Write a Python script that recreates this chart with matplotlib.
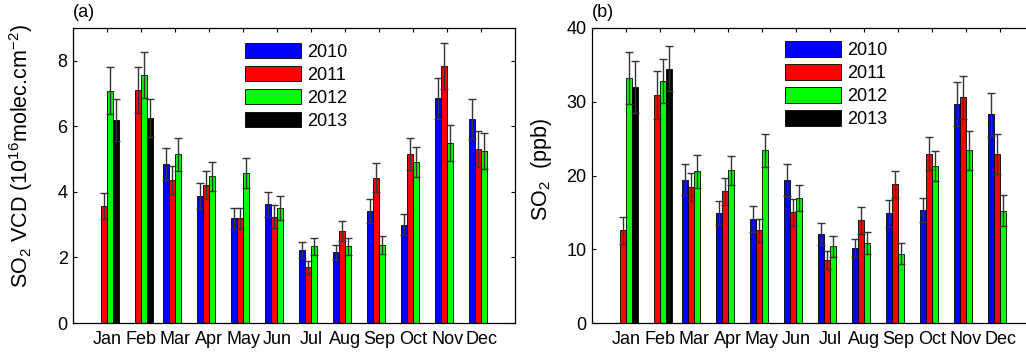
import matplotlib
matplotlib.use('Agg')
import matplotlib.pyplot as plt
import numpy as np

plt.rcParams['font.family'] = ['Liberation Sans', 'DejaVu Sans']
plt.rcParams['mathtext.default'] = 'regular'
plt.rcParams['font.size'] = 13

nan = np.nan

# Data
months = ['Jan', 'Feb', 'Mar', 'Apr', 'May', 'Jun',
          'Jul', 'Aug', 'Sep', 'Oct', 'Nov', 'Dec']
years = ['2010', '2011', '2012', '2013']

# (a) SO2 VCD (10^16 molec/cm2)
vcd_2010 = [nan, nan, 4.86, 3.87, 3.19, 3.62, 2.22, 2.16, 3.41, 3.00, 6.85, 6.22]
vcd_2011 = [3.57, 7.11, 4.36, 4.21, 3.19, 3.24, 1.70, 2.80, 4.43, 5.16, 7.83, 5.31]
vcd_2012 = [7.09, 7.56, 5.15, 4.47, 4.57, 3.50, 2.34, 2.34, 2.37, 4.91, 5.50, 5.25]
vcd_2013 = [6.19, 6.25, nan, nan, nan, nan, nan, nan, nan, nan, nan, nan]
vcd_err_2010 = [nan, nan, 0.49, 0.40, 0.33, 0.38, 0.24, 0.23, 0.36, 0.32, 0.62, 0.61]
vcd_err_2011 = [0.40, 0.69, 0.43, 0.42, 0.33, 0.35, 0.20, 0.30, 0.44, 0.48, 0.70, 0.55]
vcd_err_2012 = [0.71, 0.70, 0.50, 0.44, 0.46, 0.37, 0.26, 0.26, 0.28, 0.45, 0.55, 0.54]
vcd_err_2013 = [0.64, 0.58, nan, nan, nan, nan, nan, nan, nan, nan, nan, nan]

# (b) SO2 surface (ppb)
ppb_2010 = [nan, nan, 19.4, 14.9, 14.1, 19.35, 12.07, 10.17, 14.87, 15.3, 29.65, 28.3]
ppb_2011 = [12.56, 30.96, 18.44, 17.86, 12.56, 15.0, 8.54, 13.92, 18.8, 22.96, 30.6, 22.9]
ppb_2012 = [33.2, 32.86, 20.57, 20.7, 23.4, 17.0, 10.4, 10.85, 9.4, 21.3, 23.4, 15.2]
ppb_2013 = [31.96, 34.5, nan, nan, nan, nan, nan, nan, nan, nan, nan, nan]
ppb_err_2010 = [nan, nan, 2.1, 1.65, 1.8, 2.15, 1.53, 1.26, 1.8, 1.6, 3.0, 2.9]
ppb_err_2011 = [1.85, 3.25, 1.85, 1.85, 1.6, 1.8, 1.18, 1.85, 1.8, 2.2, 2.9, 2.7]
ppb_err_2012 = [3.5, 3.0, 2.2, 2.0, 2.2, 1.75, 1.4, 1.49, 1.4, 2.0, 2.7, 2.1]
ppb_err_2013 = [3.5, 3.0, nan, nan, nan, nan, nan, nan, nan, nan, nan, nan]

colors = ['#0000ff', '#ff0000', '#00ff00', '#000000']
width = 0.175
x = np.arange(1, 13)

fig = plt.figure(figsize=(10.26, 3.56), dpi=100)
ax1 = fig.add_axes([73.3 / 1026, 33 / 356, 442 / 1026, 295 / 356])
ax2 = fig.add_axes([592 / 1026, 33 / 356, 442 / 1026, 295 / 356])


def draw(ax, series, errs, ymax, yticks, ylabel, tag, leg_pos, label_y):
    handles = []
    for k, (vals, err) in enumerate(zip(series, errs)):
        vals = np.array(vals)
        err = np.array(err)
        pos = x + (k - 1.5) * width
        h = ax.bar(pos, np.nan_to_num(vals), width, color=colors[k],
                   edgecolor='black', linewidth=0.6, label=years[k])
        handles.append(h)
        ok = ~np.isnan(vals)
        ax.errorbar(pos[ok], vals[ok], yerr=err[ok], fmt='none',
                    ecolor='#333333', elinewidth=1.0, capsize=3.2,
                    capthick=1.0)
    ax.set_xlim(0, 13)
    ax.set_ylim(0, ymax)
    ax.set_xticks(x)
    ax.set_xticklabels(months)
    ax.set_yticks(yticks)
    ax.tick_params(direction='in', top=True, right=True, length=3,
                   width=0.8, pad=4, labelsize=13)
    ax.tick_params(axis='x', pad=6)
    for s in ax.spines.values():
        s.set_linewidth(0.9)
    ax.set_ylabel(ylabel, fontsize=15.5)
    ax.yaxis.set_label_coords(-0.087, label_y)
    ax.text(0.0, 1.025, tag, transform=ax.transAxes, fontsize=13,
            ha='left', va='bottom')
    ax.legend(handles=handles, loc='upper left', bbox_to_anchor=leg_pos,
              frameon=False, fontsize=13, handlelength=3.1,
              handleheight=0.95, labelspacing=0.28, handletextpad=0.35,
              borderpad=0, borderaxespad=0)


draw(ax1, [vcd_2010, vcd_2011, vcd_2012, vcd_2013],
     [vcd_err_2010, vcd_err_2011, vcd_err_2012, vcd_err_2013],
     9, [0, 2, 4, 6, 8], 'SO$_2$ VCD (10$^{16}$molec.cm$^{-2}$)', '(a)',
     (0.388, 0.95), 0.566)
draw(ax2, [ppb_2010, ppb_2011, ppb_2012, ppb_2013],
     [ppb_err_2010, ppb_err_2011, ppb_err_2012, ppb_err_2013],
     40, [0, 10, 20, 30, 40], 'SO$_2$  (ppb)', '(b)',
     (0.437, 0.955), 0.52)

fig.savefig('out.png', dpi=100)
